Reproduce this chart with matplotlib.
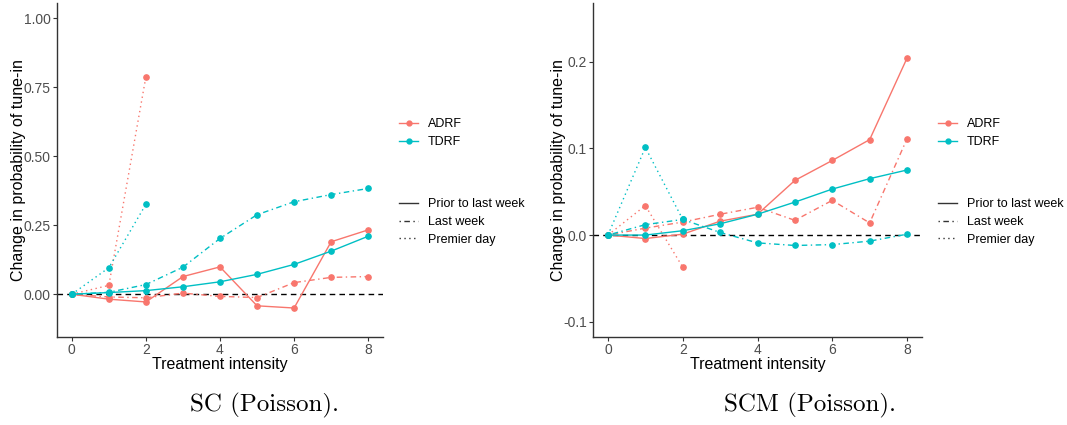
import matplotlib.pyplot as plt
from matplotlib.lines import Line2D

plt.rcParams['font.family'] = ['Liberation Sans', 'DejaVu Sans']

# data
intensity = [0, 1, 2, 3, 4, 5, 6, 7, 8]
premier_x = [0, 1, 2]

# SC (Poisson)
sc_adrf_prior = [0, -0.018, -0.028, 0.064, 0.099, -0.042, -0.050, 0.190, 0.233]
sc_adrf_last = [0, -0.010, -0.013, 0.004, -0.008, -0.012, 0.042, 0.061, 0.064]
sc_adrf_premier = [0, 0.032, 0.788]
sc_tdrf_prior = [0, 0.006, 0.013, 0.027, 0.045, 0.072, 0.108, 0.156, 0.210]
sc_tdrf_last = [0, 0.007, 0.035, 0.098, 0.202, 0.288, 0.335, 0.361, 0.383]
sc_tdrf_premier = [0, 0.096, 0.326]

# SCM (Poisson)
scm_adrf_prior = [0, -0.004, 0.001, 0.016, 0.024, 0.063, 0.086, 0.110, 0.204]
scm_adrf_last = [0, 0.008, 0.015, 0.024, 0.032, 0.017, 0.040, 0.014, 0.111]
scm_adrf_premier = [0, 0.034, -0.037]
scm_tdrf_prior = [0, 0.000, 0.005, 0.013, 0.024, 0.038, 0.053, 0.065, 0.075]
scm_tdrf_last = [0, 0.012, 0.018, 0.003, -0.009, -0.012, -0.011, -0.007, 0.001]
scm_tdrf_premier = [0, 0.101, 0.018]

red = '#F8766D'
cyan = '#00BFC4'
dotdash = (0, (1, 2.5, 4, 2.5))
dotted = (0, (1, 2.5))

fig = plt.figure(figsize=(10.67, 4.25), dpi=100)
ax1 = fig.add_axes([57 / 1067, 1 - 337 / 425, 326 / 1067, 334 / 425])
ax2 = fig.add_axes([593 / 1067, 1 - 337 / 425, 329 / 1067, 334 / 425])


def draw_panel(ax, series, ylim, yticks, ylabels, ylab_x):
    ax.axhline(0, color='black', ls=(0, (4, 3)), lw=1.0, zorder=1)
    for xs, ys, color, ls in series:
        ax.plot(xs, ys, color=color, ls=ls, lw=1.0, marker='o', ms=3.8, zorder=3)
    ax.set_xlim(-0.4, 8.4)
    ax.set_ylim(*ylim)
    ax.set_xticks([0, 2, 4, 6, 8])
    ax.set_yticks(yticks)
    ax.set_yticklabels(ylabels)
    for s in ['top', 'right']:
        ax.spines[s].set_visible(False)
    for s in ['left', 'bottom']:
        ax.spines[s].set_color('#333333')
        ax.spines[s].set_linewidth(1.0)
    ax.tick_params(colors='#333333', labelcolor='#4D4D4D', labelsize=10, length=3, width=0.8)
    ax.tick_params(axis='x', pad=1)
    ax.tick_params(axis='y', pad=1.5)
    ax.set_xlabel('Treatment intensity', fontsize=11.5, labelpad=0)
    ax.set_ylabel('Change in probability of tune-in', fontsize=11.5)
    ax.yaxis.set_label_coords(ylab_x, 0.5)


draw_panel(ax1, [
    (intensity, sc_adrf_prior, red, '-'),
    (intensity, sc_adrf_last, red, dotdash),
    (premier_x, sc_adrf_premier, red, dotted),
    (intensity, sc_tdrf_prior, cyan, '-'),
    (intensity, sc_tdrf_last, cyan, dotdash),
    (premier_x, sc_tdrf_premier, cyan, dotted),
], (-0.155, 1.055), [0, 0.25, 0.5, 0.75, 1.0], ['0.00', '0.25', '0.50', '0.75', '1.00'], -0.095)

draw_panel(ax2, [
    (intensity, scm_adrf_prior, red, '-'),
    (intensity, scm_adrf_last, red, dotdash),
    (premier_x, scm_adrf_premier, red, dotted),
    (intensity, scm_tdrf_prior, cyan, '-'),
    (intensity, scm_tdrf_last, cyan, dotdash),
    (premier_x, scm_tdrf_premier, cyan, dotted),
], (-0.1175, 0.2675), [-0.1, 0, 0.1, 0.2], ['-0.1', '0.0', '0.1', '0.2'], -0.082)

# legends
color_handles = [Line2D([], [], color=red, lw=1.0, marker='o', ms=3.5),
                 Line2D([], [], color=cyan, lw=1.0, marker='o', ms=3.5)]
style_handles = [Line2D([], [], color='#333333', lw=1.0, ls='-'),
                 Line2D([], [], color='#333333', lw=1.0, ls=dotdash),
                 Line2D([], [], color='#333333', lw=1.0, ls=dotted)]
for x0 in [393 / 1067, 932 / 1067]:
    fig.legend(color_handles, ['ADRF', 'TDRF'], loc='upper left',
               bbox_to_anchor=(x0, 1 - 112 / 425), frameon=False, fontsize=9,
               handlelength=1.5, handletextpad=0.8, labelspacing=0.45, borderpad=0)
    fig.legend(style_handles, ['Prior to last week', 'Last week', 'Premier day'], loc='upper left',
               bbox_to_anchor=(x0, 1 - 192 / 425), frameon=False, fontsize=9,
               handlelength=1.5, handletextpad=0.8, labelspacing=0.45, borderpad=0)

# captions
fig.text(265 / 1067, 1 - 405 / 425, 'SC (Poisson).', family='cmr10', fontsize=18,
         ha='center', va='center')
fig.text(810 / 1067, 1 - 405 / 425, 'SCM (Poisson).', family='cmr10', fontsize=18,
         ha='center', va='center')

fig.savefig('out.png', dpi=100)
